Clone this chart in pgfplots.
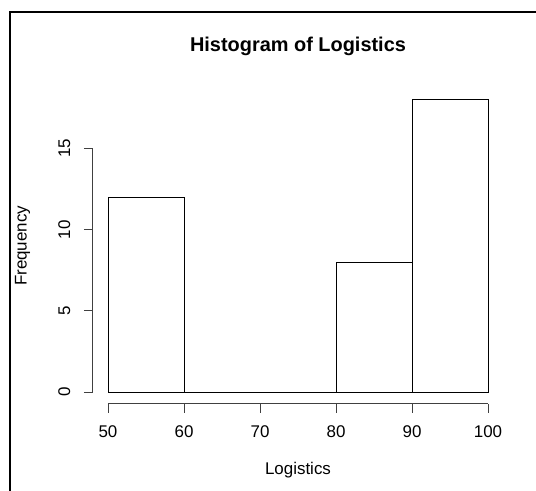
\documentclass[border=0pt]{standalone}
\usepackage{pgfplots}
\pgfplotsset{compat=1.18}
\usepackage{fontspec}
\setmainfont{Liberation Sans}
\begin{document}
\begin{tikzpicture}[x=1bp,y=1bp]
\useasboundingbox (0,0) rectangle (536,491);
\begin{axis}[at={(92.8bp,87.3bp)}, anchor=south west, scale only axis,
  width=410.4bp, height=315.5bp,
  xmin=48, xmax=102, ymin=-0.72, ymax=18.72,
  axis line style={draw=none},
  xtick={50,60,70,80,90,100}, ytick={0,5,10,15},
  xtick pos=bottom, ytick pos=left, tick align=outside,
  major tick length=9bp, tick style={black!75, line width=0.8bp},
  /pgf/number format/assume math mode=true,
  ticklabel style={font=\fontsize{17}{20}\selectfont},
  xticklabel style={anchor=base, yshift=-24.4bp},
  yticklabel style={xshift=-13.8bp, rotate=90, anchor=base},
  title={Histogram of Logistics},
  title style={font=\fontsize{20}{24}\selectfont\bfseries, at={(axis description cs:0.5,1.0979)}, anchor=base},
  xlabel={Logistics}, ylabel={Frequency},
  label style={font=\fontsize{17}{20}\selectfont},
  xlabel style={at={(axis description cs:0.5,-0.2238)}, anchor=base},
  ylabel style={at={(axis description cs:-0.1611,0.5)}, anchor=base},
  clip=false]
\addplot[ybar interval, fill=white, draw=black, line width=0.8bp] coordinates {(50,12) (60,0) (70,0) (80,8) (90,18) (100,18)};
\draw[black!75, line width=0.8bp] (axis cs:50,-0.72) -- (axis cs:100,-0.72);
\draw[black!75, line width=0.8bp] (axis cs:48,0) -- (axis cs:48,15);
\end{axis}
\draw[line width=1.8bp] (10,-10) -- (10,478.7) -- (546,478.7);
\end{tikzpicture}
\end{document}
